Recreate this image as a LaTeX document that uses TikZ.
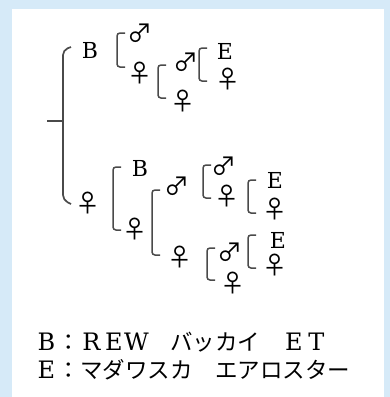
\documentclass[tikz,border=0pt]{standalone}
\usepackage{fontspec}
\newfontfamily\cjk{Noto Sans CJK JP}
\newfontfamily\serifd{DejaVu Serif}
\newcommand{\fwl}[1]{\makebox[1em]{\serifd\fontsize{24}{24}\selectfont #1}}
\definecolor{bgblue}{HTML}{D6EAF8}
\definecolor{brkgray}{HTML}{4A4A4A}
\begin{document}
\begin{tikzpicture}[x=1pt,y=-1pt,
  lbl/.style={inner sep=0pt,font=\serifd\fontsize{22}{22}\selectfont},
  sym/.style={inner sep=0pt,font=\cjk\fontsize{25}{25}\selectfont},
  brk/.style={draw=brkgray,line width=1.5pt,rounded corners=3pt},
  legend/.style={inner sep=0pt,anchor=west,font=\cjk\fontsize{22.5}{22.5}\selectfont}]
\fill[bgblue] (0,0) rectangle (390,397);
\fill[white] (12,9) rectangle (384,397);
\useasboundingbox (0,0) rectangle (390,397);
% main bracket
\coordinate (root) at (47,121);
\node[lbl] (b1) at (90,50) {B};
\node[sym] (f1) at (88,203) {♀};
\draw[brk,line width=1.7pt,rounded corners=5pt] (root) -- (63,121);
\draw[brk,line width=1.7pt,rounded corners=5pt] (71,47) -- (63,50) -- (63,200) -- (71,204);
% top branch
\node[sym] (m2) at (140,33) {♂};
\node[sym] (f2) at (140,73) {♀};
\draw[brk] (125,33) -- (117,33) -- (117,67) -- (125,67);
\node[sym] (m3) at (186,62) {♂};
\node[sym] (f3) at (183,101) {♀};
\draw[brk] (166,65) -- (158,65) -- (158,98) -- (166,98);
\node[lbl] (e1) at (225,51) {E};
\node[sym] (f4) at (228,79) {♀};
\draw[brk] (207,48) -- (199,48) -- (199,81) -- (207,81);
% bottom branch
\node[lbl] (b2) at (140,168) {B};
\node[sym] (f5) at (135,229) {♀};
\draw[brk] (121,167) -- (113,167) -- (113,230) -- (121,230);
\node[sym] (m6) at (177,186) {♂};
\node[sym] (f6) at (180,257) {♀};
\draw[brk] (160,190) -- (152,190) -- (152,255) -- (160,255);
\node[sym] (m7) at (224,166) {♂};
\node[sym] (f7) at (227,196) {♀};
\draw[brk] (211,165) -- (203,165) -- (203,198) -- (211,198);
\node[lbl] (e2) at (275,180) {E};
\node[sym] (f8) at (275,209) {♀};
\draw[brk] (256,180) -- (248,180) -- (248,213) -- (256,213);
\node[sym] (m9) at (230,252) {♂};
\node[sym] (f9) at (233,283) {♀};
\draw[brk] (215,248) -- (207,248) -- (207,280) -- (215,280);
\node[lbl] (e3) at (278,240) {E};
\node[sym] (f10) at (275,265) {♀};
\draw[brk] (256,235) -- (248,235) -- (248,268) -- (256,268);
% legend
\node[legend] (l1) at (35,342) {\fwl{B}：\fwl{R}\fwl{E}\fwl{W}　バッカイ　\fwl{E}\fwl{T}};
\node[legend] (l2) at (35,370) {\fwl{E}：マダワスカ　エアロスター};
\end{tikzpicture}
\end{document}
